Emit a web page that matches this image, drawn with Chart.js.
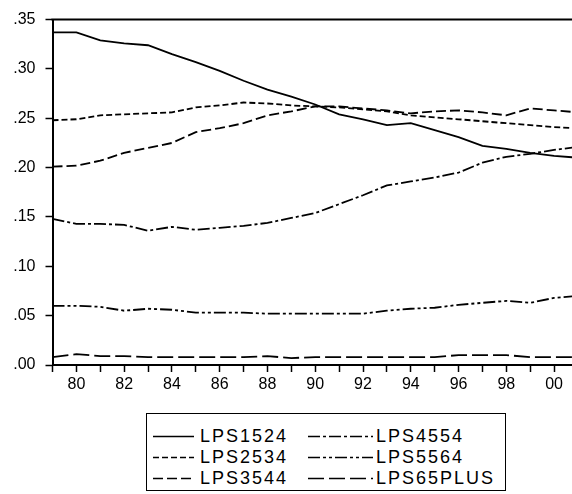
<!DOCTYPE html>
<html>
<head>
<meta charset="utf-8">
<script src="https://cdn.jsdelivr.net/npm/chart.js@4/dist/chart.umd.min.js"></script>
<style>
  body { margin: 0; background: #fff; }
  #wrap { position: relative; width: 572px; height: 494px; }
  #lpsChart { position: absolute; left: 0; top: 0; }
  #legendBox {
    position: absolute; left: 146px; top: 413px; width: 360px; height: 78px;
    border: 1px solid #000; box-sizing: border-box;
    font-family: "Liberation Sans", Arial, sans-serif; font-size: 18px; letter-spacing: 2px;
  }
  .item { position: absolute; height: 20px; line-height: 20px; white-space: nowrap; }
  .item svg { position: absolute; top: 0; }
  .item span { position: absolute; top: 0; }
</style>
</head>
<body>
<div id="wrap">
  <canvas id="lpsChart" width="572" height="400"></canvas>
  <div id="legendBox"></div>
</div>
<script>
const years = [1979, 1980, 1981, 1982, 1983, 1984, 1985, 1986, 1987, 1988, 1989, 1990,
               1991, 1992, 1993, 1994, 1995, 1996, 1997, 1998, 1999, 2000, 2001];

const lps1524 = [.337, .337, .329, .326, .324, .315, .307, .298, .288, .279, .272, .264,
                 .254, .249, .243, .245, .238, .231, .222, .219, .215, .212, .210];
const lps2534 = [.248, .249, .253, .254, .255, .256, .261, .263, .266, .265, .263, .262,
                 .261, .259, .257, .253, .251, .249, .247, .245, .243, .241, .240];
const lps3544 = [.201, .202, .207, .215, .220, .225, .236, .240, .245, .253, .257, .262,
                 .262, .260, .258, .255, .257, .258, .256, .253, .260, .258, .256];
const lps4554 = [.148, .143, .143, .142, .136, .140, .137, .139, .141, .144, .149, .154,
                 .163, .172, .182, .186, .190, .195, .205, .211, .214, .218, .221];
const lps5564 = [.060, .060, .059, .055, .057, .056, .053, .053, .053, .052, .052, .052,
                 .052, .052, .055, .057, .058, .061, .063, .065, .063, .068, .070];
const lps65plus = [.008, .011, .009, .009, .008, .008, .008, .008, .008, .009, .007, .008,
                   .008, .008, .008, .008, .008, .010, .010, .010, .008, .008, .008];

const seriesNames = ['LPS1524', 'LPS2534', 'LPS3544', 'LPS4554', 'LPS5564', 'LPS65PLUS'];
const seriesValues = [lps1524, lps2534, lps3544, lps4554, lps5564, lps65plus];
const dashes = [[], [6, 3], [10, 4], [12, 3, 3, 3], [12, 3, 3, 3, 3, 3], [16, 5]];

const fontFamily = '"Liberation Sans", Arial, sans-serif';

const datasets = seriesValues.map((vals, i) => ({
    label: seriesNames[i],
    data: vals.map((v, j) => ({ x: years[j], y: v })),
    borderColor: '#000',
    borderWidth: 1.8,
    borderDash: dashes[i],
    pointRadius: 0,
    tension: 0,
    fill: false
}));

// top frame line across the plot
const topLine = {
    id: 'topLine',
    afterDraw(chart) {
        const { ctx, chartArea } = chart;
        ctx.save();
        ctx.strokeStyle = '#000';
        ctx.lineWidth = 2;
        ctx.beginPath();
        ctx.moveTo(chartArea.left - 1, chartArea.top);
        ctx.lineTo(chart.width, chartArea.top);
        ctx.stroke();
        ctx.restore();
    }
};

const ctx = document.getElementById('lpsChart').getContext('2d');
const lpsChart = new Chart(ctx, {
    type: 'line',
    data: { datasets: datasets },
    options: {
        responsive: false,
        animation: false,
        devicePixelRatio: 1,
        layout: { padding: { top: 17, right: 0, left: 0, bottom: 0 } },
        plugins: {
            legend: { display: false },
            tooltip: { enabled: false }
        },
        scales: {
            x: {
                type: 'linear',
                min: 1979,
                max: 2000.75,
                afterFit: (scale) => { scale.height = 35; },
                border: { display: true, color: '#000', width: 2 },
                grid: { drawOnChartArea: false, drawTicks: true, tickLength: 7, color: '#000', tickWidth: 1.5 },
                ticks: {
                    stepSize: 1,
                    autoSkip: false,
                    includeBounds: false,
                    maxRotation: 0,
                    padding: 3,
                    color: '#000',
                    font: { family: fontFamily, size: 16 },
                    callback: (v) => (v % 2 === 0 ? String(v % 100).padStart(2, '0') : '')
                }
            },
            y: {
                min: 0,
                max: 0.35,
                afterFit: (scale) => { scale.width = 52.5; },
                border: { display: true, color: '#000', width: 2 },
                grid: { drawOnChartArea: false, drawTicks: true, tickLength: 7, color: '#000', tickWidth: 1.5 },
                ticks: {
                    stepSize: 0.05,
                    padding: 10,
                    color: '#000',
                    font: { family: fontFamily, size: 16 },
                    callback: (v) => v.toFixed(2).replace(/^0/, '')
                }
            }
        }
    },
    plugins: [topLine]
});

// legend box, two columns filled top to bottom
const legendBox = document.getElementById('legendBox');
const rowTops = [12, 33, 54];
lpsChart.data.datasets.forEach((ds, i) => {
    const col = Math.floor(i / 3);
    const row = i % 3;
    const lineLeft = col === 0 ? 6 : 161;
    const lineLen = col === 0 ? 41 : 65;
    const textLeft = col === 0 ? 53 : 229;
    const item = document.createElement('div');
    item.className = 'item';
    item.style.left = '0px';
    item.style.top = rowTops[row] + 'px';
    item.innerHTML =
        `<svg width="${lineLen}" height="20" style="left:${lineLeft}px">` +
        `<line x1="0" y1="10.5" x2="${lineLen}" y2="10.5" stroke="#000" stroke-width="1.6"` +
        ` stroke-dasharray="${ds.borderDash.length ? ds.borderDash.join(' ') : 'none'}"/></svg>` +
        `<span style="left:${textLeft}px">${ds.label}</span>`;
    legendBox.appendChild(item);
});
</script>
</body>
</html>
